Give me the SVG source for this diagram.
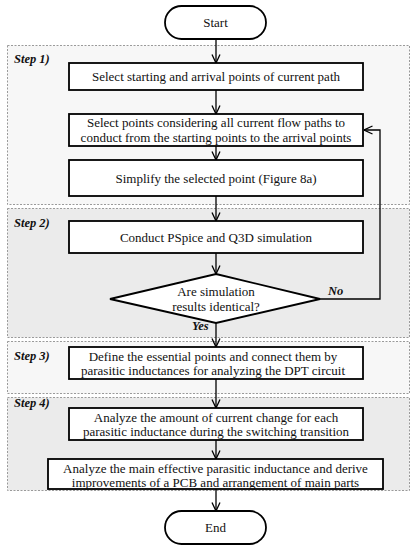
<svg xmlns="http://www.w3.org/2000/svg" width="417" height="550" viewBox="0 0 417 550">
<defs>
<marker id="arr" viewBox="0 0 10 10" refX="9.5" refY="5" markerWidth="10" markerHeight="10" markerUnits="userSpaceOnUse" orient="auto">
<path d="M1,1 L9.5,5 L1,9" fill="none" stroke="#000" stroke-width="1.3"/>
</marker>
<style>
.t{font-family:"Liberation Serif","Times New Roman",serif;font-size:13px;fill:#111;text-anchor:middle}
.s{font-family:"Liberation Serif","Times New Roman",serif;font-size:12.5px;font-weight:bold;font-style:italic;fill:#111}
.b{fill:#fff;stroke:#000;stroke-width:1.8}
.r1{fill:#f7f7f7;stroke:#9a9a9a;stroke-width:1;stroke-dasharray:2 1.5}
.r2{fill:#ebebeb;stroke:#9a9a9a;stroke-width:1;stroke-dasharray:2 1.5}
.c{fill:none;stroke:#000;stroke-width:1.3}
</style>
</defs>
<rect width="417" height="550" fill="#fff"/>
<g id="regions">
<rect class="r1" x="7.5" y="45.5" width="402" height="159"/>
<rect class="r2" x="7.5" y="208.5" width="402" height="129"/>
<rect class="r1" x="7.5" y="341.5" width="402" height="52"/>
<rect class="r2" x="7.5" y="397.5" width="402" height="93"/>
<text class="s" x="14" y="63">Step 1)</text>
<text class="s" x="14" y="227">Step 2)</text>
<text class="s" x="14" y="360">Step 3)</text>
<text class="s" x="14" y="407">Step 4)</text>
</g>
<g id="connectors">
<line class="c" x1="216" y1="39" x2="216" y2="63" marker-end="url(#arr)"/>
<line class="c" x1="216" y1="90" x2="216" y2="114" marker-end="url(#arr)"/>
<line class="c" x1="216" y1="146" x2="216" y2="160" marker-end="url(#arr)"/>
<line class="c" x1="216" y1="196" x2="216" y2="221" marker-end="url(#arr)"/>
<line class="c" x1="216" y1="253" x2="216" y2="274" marker-end="url(#arr)"/>
<line class="c" x1="216" y1="323" x2="216" y2="347" marker-end="url(#arr)"/>
<line class="c" x1="216" y1="379" x2="216" y2="408" marker-end="url(#arr)"/>
<line class="c" x1="216" y1="440" x2="216" y2="459" marker-end="url(#arr)"/>
<line class="c" x1="216" y1="489" x2="216" y2="511" marker-end="url(#arr)"/>
<polyline class="c" points="320,299 380,299 380,130 364,130" marker-end="url(#arr)"/>
<text class="s" x="328" y="295">No</text>
<text class="s" x="192" y="330">Yes</text>
</g>
<g id="start">
<rect class="b" x="165" y="6" width="101" height="33" rx="16.5"/>
<text class="t" x="215.5" y="27">Start</text>
</g>
<g id="n1">
<rect class="b" x="69" y="63" width="294" height="27"/>
<text class="t" x="216" y="81">Select starting and arrival points of current path</text>
</g>
<g id="n2">
<rect class="b" x="69" y="114" width="294" height="32"/>
<text class="t" x="216" y="127">Select points considering all current flow paths to</text>
<text class="t" x="216" y="141.5">conduct from the starting points to the arrival points</text>
</g>
<g id="n3">
<rect class="b" x="69" y="160" width="294" height="36"/>
<text class="t" x="216" y="182.5">Simplify the selected point (Figure 8a)</text>
</g>
<g id="n4">
<rect class="b" x="69" y="221" width="294" height="32"/>
<text class="t" x="216" y="241.5">Conduct PSpice and Q3D simulation</text>
</g>
<g id="decision">
<polygon class="b" points="216,274 320,299 216,323 110,299"/>
<text class="t" x="216" y="296">Are simulation</text>
<text class="t" x="216" y="311">results identical?</text>
</g>
<g id="n5">
<rect class="b" x="69" y="347" width="294" height="32"/>
<text class="t" x="213" y="361">Define the essential points and connect them by</text>
<text class="t" x="213" y="375">parasitic inductances for analyzing the DPT circuit</text>
</g>
<g id="n6">
<rect class="b" x="69" y="408" width="294" height="32"/>
<text class="t" x="216" y="421.5">Analyze the amount of current change for each</text>
<text class="t" x="216" y="436">parasitic inductance during the switching transition</text>
</g>
<g id="n7">
<rect class="b" x="48" y="459" width="335" height="30"/>
<text class="t" x="215.5" y="473">Analyze the main effective parasitic inductance and derive</text>
<text class="t" x="215.5" y="487">improvements of a PCB and arrangement of main parts</text>
</g>
<g id="end">
<rect class="b" x="165" y="511" width="101" height="33" rx="16.5"/>
<text class="t" x="215.5" y="532">End</text>
</g>
</svg>
